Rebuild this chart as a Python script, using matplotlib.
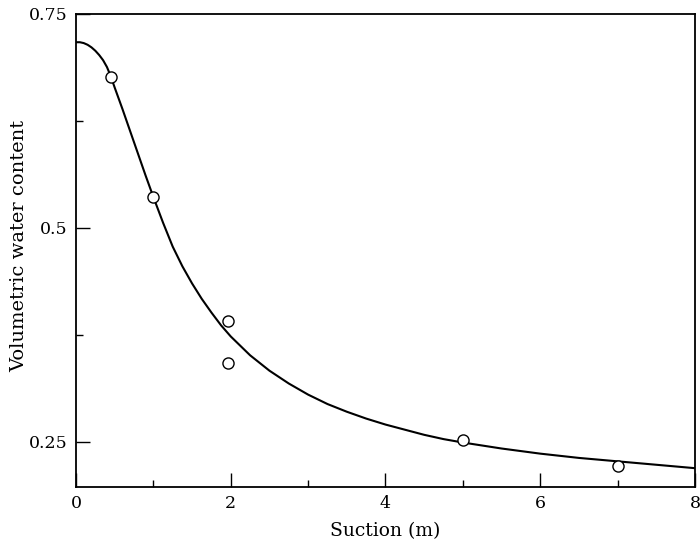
import matplotlib
matplotlib.use("Agg")
import matplotlib.pyplot as plt
from matplotlib.ticker import FixedLocator

# measured data points
obs_suction = [0.45, 1.0, 1.97, 1.97, 5.0, 7.0]
obs_theta = [0.676, 0.536, 0.391, 0.342, 0.252, 0.221]

# fitted curve
curve_suction = [0.0, 0.05, 0.1, 0.15, 0.2, 0.25, 0.3, 0.35, 0.4, 0.45, 0.5, 0.6, 0.7, 0.8, 0.9,
                 1.0, 1.125, 1.25, 1.375, 1.5, 1.625, 1.75, 1.875, 2.0, 2.25, 2.5, 2.75, 3.0,
                 3.25, 3.5, 3.75, 4.0, 4.25, 4.5, 4.75, 5.0, 5.5, 6.0, 6.5, 7.0, 7.5, 8.0]
curve_theta = [0.717, 0.717, 0.716, 0.714, 0.711, 0.707, 0.702, 0.696, 0.688, 0.677, 0.664,
               0.639, 0.613, 0.587, 0.561, 0.536, 0.506, 0.478, 0.455, 0.435, 0.417, 0.401,
               0.386, 0.373, 0.351, 0.333, 0.318, 0.305, 0.294, 0.285, 0.277, 0.270, 0.264,
               0.258, 0.253, 0.249, 0.242, 0.236, 0.231, 0.227, 0.223, 0.219]

x_major = [0, 2, 4, 6, 8]
x_minor = [1, 3, 5, 7]
y_major = [0.25, 0.5, 0.75]
y_minor = [0.375, 0.625]

plt.rcParams['font.family'] = ['DejaVu Serif']

fig = plt.figure(figsize=(7.0, 5.51), dpi=100)
ax = fig.add_axes([76/700, 1-487/551, (695-76)/700, (487-14)/551])

ax.plot(curve_suction, curve_theta, color='black', lw=1.5)
ax.plot(obs_suction, obs_theta, 'o', mfc='white', mec='black', ms=8, mew=1.0)

ax.set_xlim(0, 8)
ax.set_ylim(0.197, 0.75)
ax.xaxis.set_major_locator(FixedLocator(x_major))
ax.xaxis.set_minor_locator(FixedLocator(x_minor))
ax.yaxis.set_major_locator(FixedLocator(y_major))
ax.yaxis.set_minor_locator(FixedLocator(y_minor))
ax.set_xticklabels([str(v) for v in x_major])
ax.set_yticklabels([f"{v:g}" for v in y_major])
ax.tick_params(which='major', direction='in', length=10, width=1, labelsize=12.5, pad=6)
ax.tick_params(which='minor', direction='in', length=5, width=1)
ax.tick_params(top=False, right=False)
for s in ax.spines.values():
    s.set_linewidth(1.3)

ax.set_xlabel('Suction (m)', fontsize=13.5, labelpad=7)
ax.set_ylabel('Volumetric water content', fontsize=14)
ax.yaxis.set_label_coords(-0.077, 0.51)

fig.savefig('out.png', dpi=100)
